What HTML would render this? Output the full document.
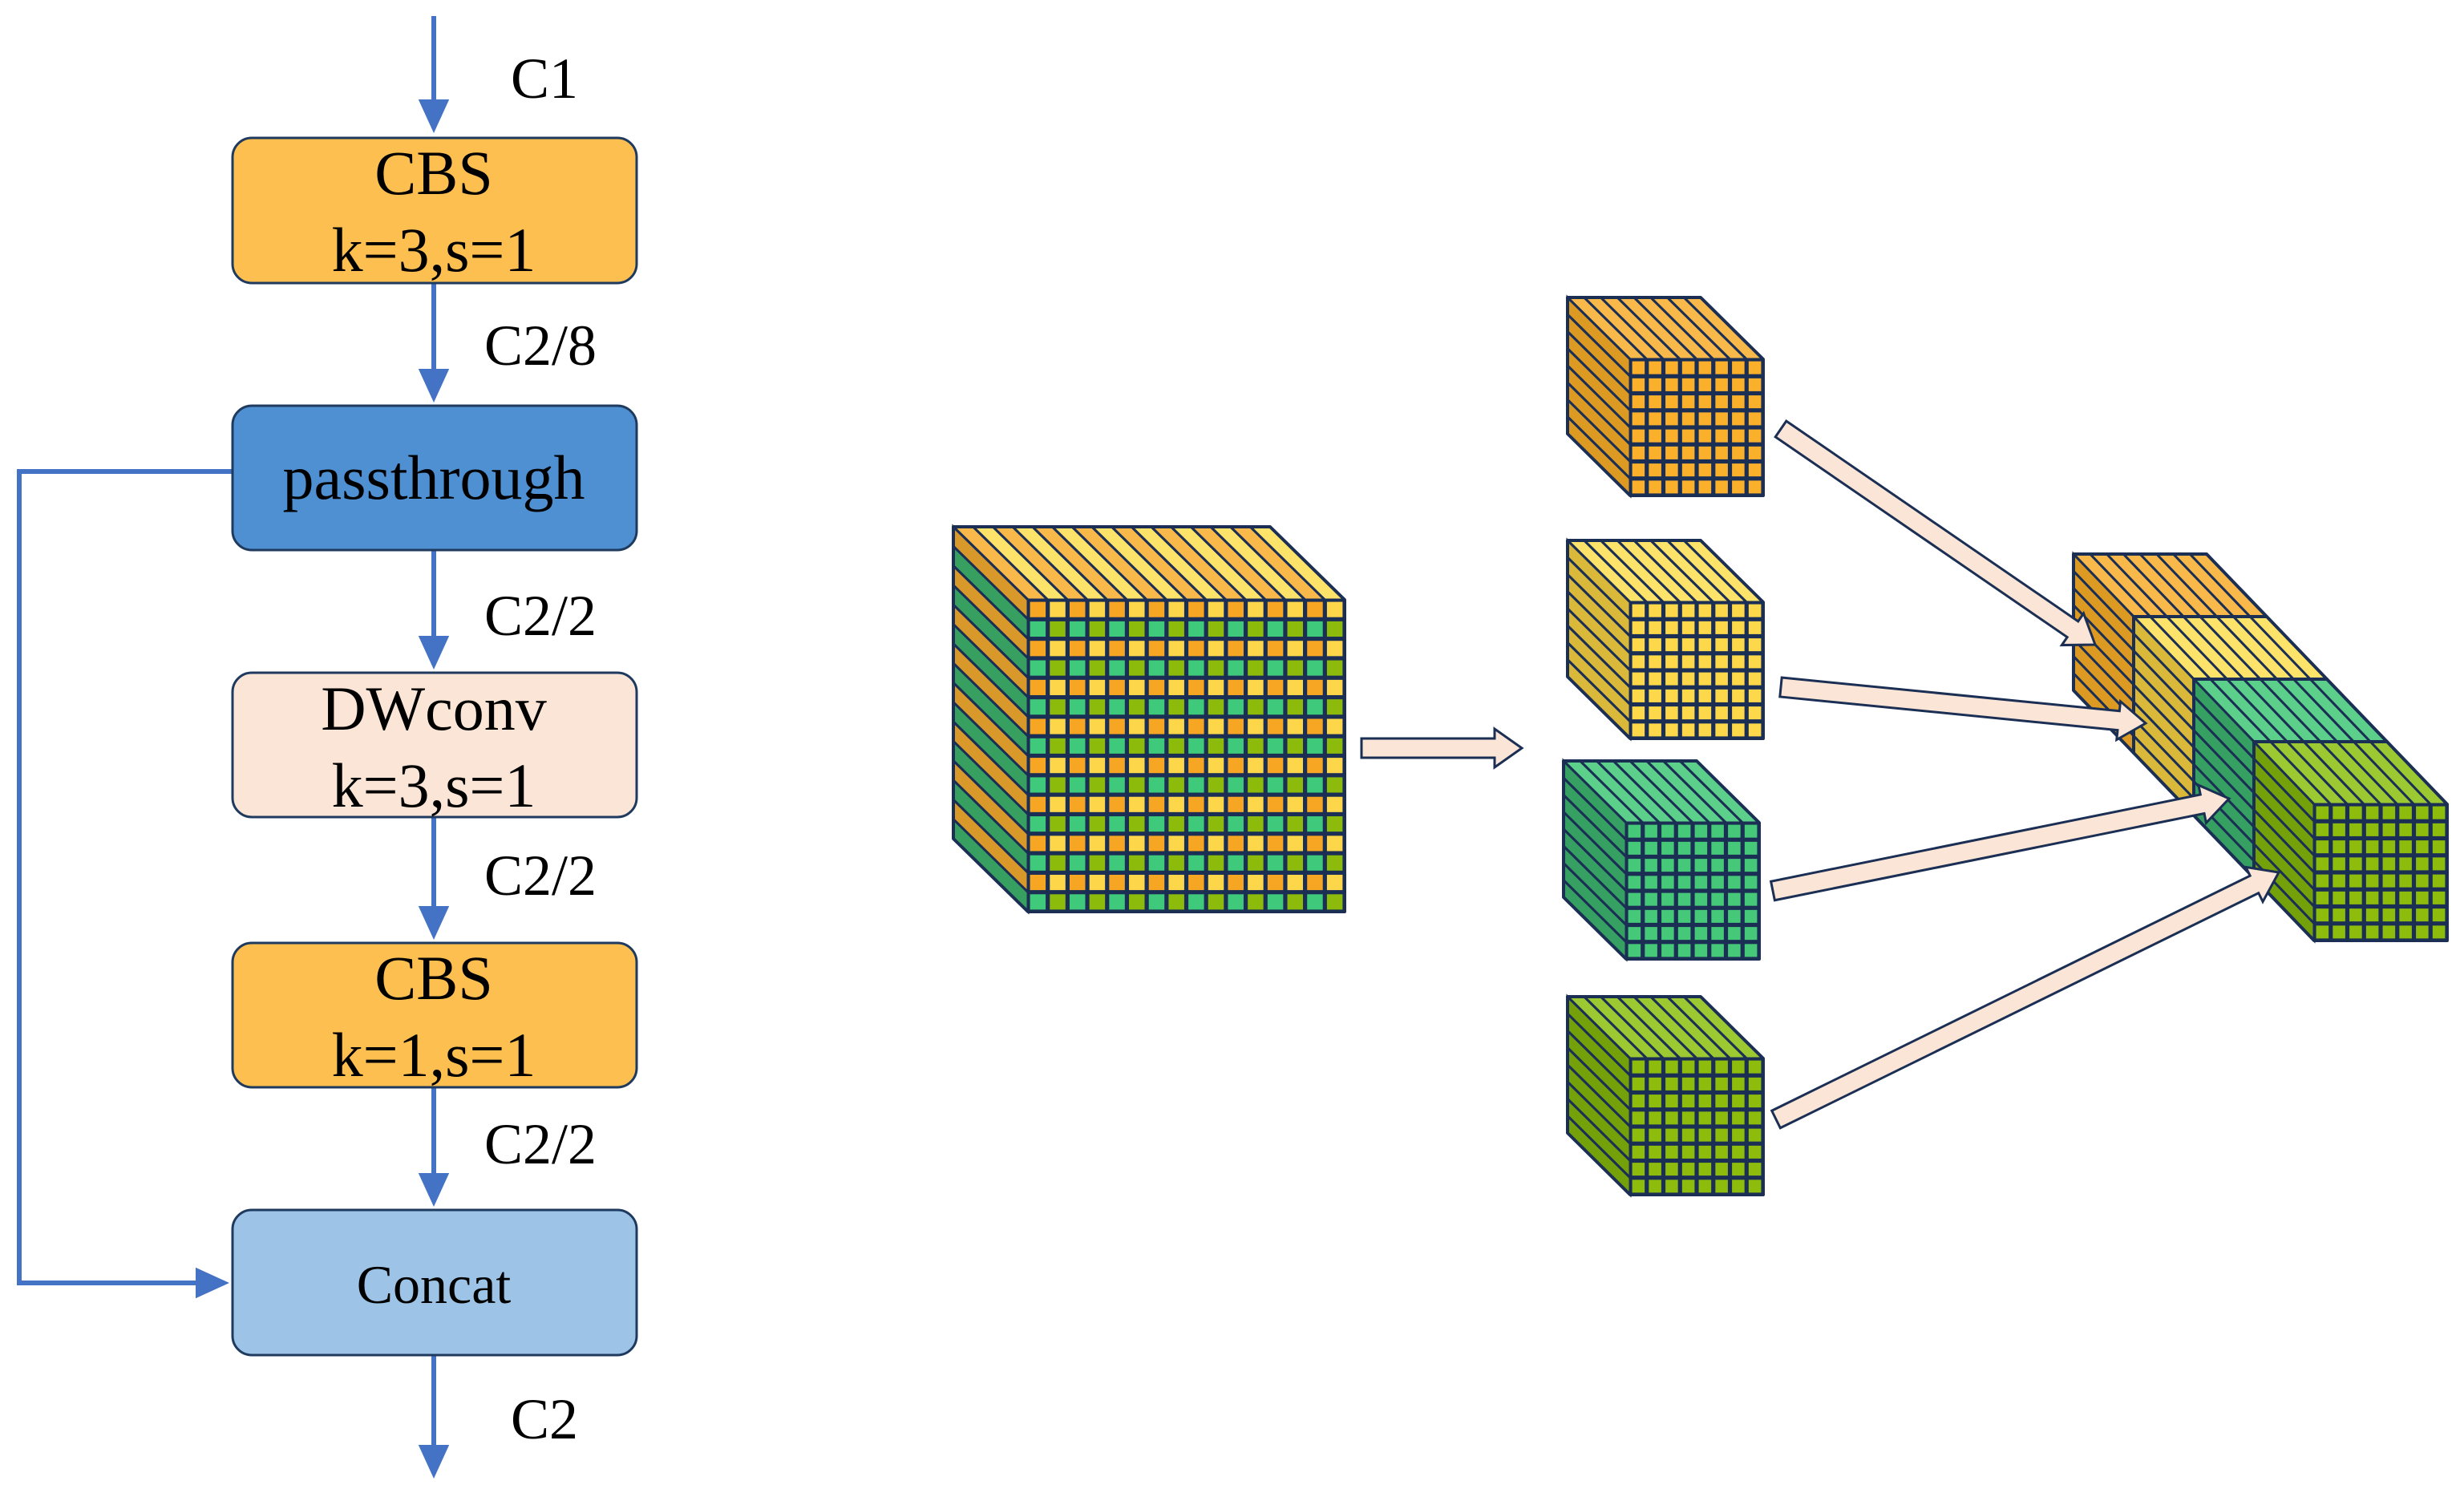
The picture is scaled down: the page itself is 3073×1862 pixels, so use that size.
<!DOCTYPE html>
<html><head><meta charset="utf-8"><style>
html,body{margin:0;padding:0;background:#fff}
svg{display:block}
text{font-family:"Liberation Serif",serif;fill:#000}
</style></head><body>
<svg id="s" width="3073" height="1862" viewBox="0 0 3073 1862" xmlns="http://www.w3.org/2000/svg">
<defs>
<marker id="ah" markerWidth="8" markerHeight="8" refX="6" refY="4" orient="auto" markerUnits="strokeWidth"><path d="M0,0.8 L7,4 L0,7.2 z" fill="#4472c4"/></marker>
</defs>
<g stroke="#4472c4" stroke-width="6" fill="none">
<line x1="541" y1="20" x2="541" y2="160" marker-end="url(#ah)"/>
<line x1="541" y1="353" x2="541" y2="496" marker-end="url(#ah)"/>
<line x1="541" y1="686" x2="541" y2="829" marker-end="url(#ah)"/>
<line x1="541" y1="1019" x2="541" y2="1166" marker-end="url(#ah)"/>
<line x1="541" y1="1356" x2="541" y2="1499" marker-end="url(#ah)"/>
<line x1="541" y1="1690" x2="541" y2="1838" marker-end="url(#ah)"/>
<polyline points="290,588 24,588 24,1600 280,1600" marker-end="url(#ah)"/>
</g>
<g stroke="#1f3a5f" stroke-width="3">
<rect x="290" y="172" width="504" height="181" rx="24" fill="#fdbf4f"/>
<rect x="290" y="506" width="504" height="180" rx="24" fill="#4f90d2"/>
<rect x="290" y="839" width="504" height="180" rx="24" fill="#fbe5d6"/>
<rect x="290" y="1176" width="504" height="180" rx="24" fill="#fdbf4f"/>
<rect x="290" y="1509" width="504" height="181" rx="24" fill="#9dc3e6"/>
</g>
<g font-size="78" text-anchor="middle">
<text x="541" y="242">CBS</text>
<text x="541" y="338">k=3,s=1</text>
<text x="541" y="622">passthrough</text>
<text x="541" y="910">DWconv</text>
<text x="541" y="1006">k=3,s=1</text>
<text x="541" y="1246">CBS</text>
<text x="541" y="1342">k=1,s=1</text>
<text x="541" y="1625" font-size="68">Concat</text>
</g>
<g font-size="72">
<text x="637" y="122">C1</text>
<text x="604" y="455">C2/8</text>
<text x="604" y="792">C2/2</text>
<text x="604" y="1116">C2/2</text>
<text x="604" y="1451">C2/2</text>
<text x="637" y="1794">C2</text>
</g>
<g id="cubes"></g>
<g id="arrows"></g>
</svg>
<script>
var NS="http://www.w3.org/2000/svg";
var C=document.getElementById('cubes'),A=document.getElementById('arrows');
function el(p,t,a){var e=document.createElementNS(NS,t);for(var k in a)e.setAttribute(k,a[k]);p.appendChild(e);return e;}
var ST="#1b2f55";
function cube(bx,by,dx,dy,w,h,n,topC,sideC,faceC,grid){
  var fx=bx+dx,fy=by+dy;
  for(var i=0;i<n;i++){
    var x0=bx+w*i/n,x1=bx+w*(i+1)/n;
    el(C,'polygon',{points:[x0,by,x1,by,x1+dx,fy,x0+dx,fy].join(' '),fill:topC(i),stroke:ST,'stroke-width':3,'stroke-linejoin':'round'});
  }
  for(var j=0;j<n;j++){
    var y0=by+h*j/n,y1=by+h*(j+1)/n;
    el(C,'polygon',{points:[bx,y0,bx+dx,y0+dy,bx+dx,y1+dy,bx,y1].join(' '),fill:sideC(j),stroke:ST,'stroke-width':3});
  }
  if(grid){
    el(C,'rect',{x:fx,y:fy,width:w,height:h,fill:ST});
    var g=2.6;
    for(var r=0;r<n;r++)for(var c=0;c<n;c++){
      el(C,'rect',{x:fx+w*c/n+g,y:fy+h*r/n+g,width:w/n-2*g,height:h/n-2*g,fill:faceC(r,c)});
    }
  }
  el(C,'polygon',{points:[bx,by,bx+w,by,fx+w,fy,fx+w,fy+h,fx,fy+h,bx,by+h].join(' '),fill:'none',stroke:ST,'stroke-width':4,'stroke-linejoin':'round'});
}
cube(1189,657,93,91,395,389,16,
 function(i){return i%2?'#fde36a':'#f9b94a';},
 function(j){return j%2?'#37a060':'#d9982a';},
 function(r,c){return r%2?(c%2?'#8cbb0b':'#3fc97a'):(c%2?'#fdd64a':'#f7a623');},true);
var sc=[[1955,371,'#f9b94a','#dd9a22','#fbb02c'],[1955,674,'#fde36a','#d9b83a','#fdd84a'],[1950,949,'#5cd08a','#35a062','#45c878'],[1955,1243,'#9cc832','#74a00a','#8ebc0c']];
sc.forEach(function(s){cube(s[0],s[1],78,77,166,170,8,function(){return s[2];},function(){return s[3];},function(){return s[4];},true);});
var stk=[['#f9b94a','#dd9a22','#fbb02c'],['#fde36a','#d9b83a','#fdd84a'],['#5cd08a','#35a062','#45c878'],['#9cc832','#74a00a','#8ebc0c']];
stk.forEach(function(s,i){cube(2586+75*i,691+78*i,75,78,166,170,8,function(){return s[0];},function(){return s[1];},function(){return s[2];},i==3);});
function barrow(x1,y1,x2,y2){
  var dx=x2-x1,dy=y2-y1,L=Math.hypot(dx,dy),ux=dx/L,uy=dy/L,px=-uy,py=ux;
  var sw=12,hw=24,hl=34;
  var bx=x2-ux*hl,by=y2-uy*hl;
  var pts=[[x1+px*sw,y1+py*sw],[bx+px*sw,by+py*sw],[bx+px*hw,by+py*hw],[x2,y2],[bx-px*hw,by-py*hw],[bx-px*sw,by-py*sw],[x1-px*sw,y1-py*sw]];
  el(A,'polygon',{points:pts.map(function(p){return p.join(',');}).join(' '),fill:'#fbe5d6',stroke:ST,'stroke-width':3,'stroke-linejoin':'miter'});
}
barrow(1698,933,1898,933);
barrow(2221,535,2613,804);
barrow(2221,857,2676,902);
barrow(2211,1111,2780,996);
barrow(2215,1396,2842,1088);
</script>
</body></html>
